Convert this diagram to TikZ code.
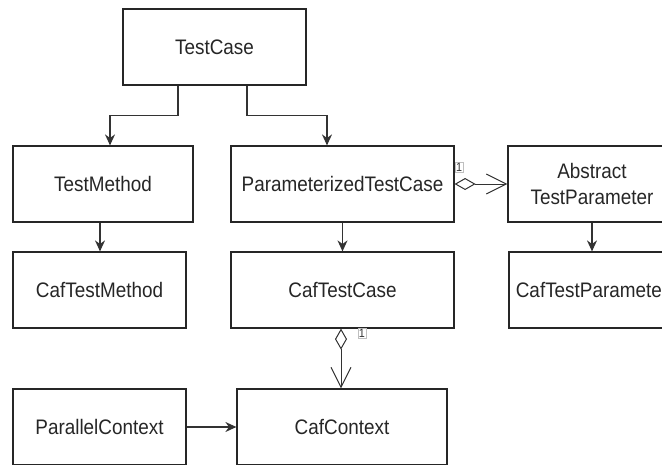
\documentclass[tikz,border=0pt]{standalone}
\usepackage{fontspec}
\setmainfont{Liberation Sans}[FakeStretch=0.9]
\usetikzlibrary{arrows.meta,calc}
\begin{document}
\begin{tikzpicture}[x=1pt,y=-1pt,
  cls/.style={draw=black!85,line width=1.2pt,minimum height=76pt,inner sep=0pt,
    font=\fontsize{21}{26}\selectfont,text=black!85,align=center},
  arr/.style={draw=black!80,line width=1.3pt,-{Stealth[length=11pt,width=10pt]}},
  agg/.style={draw=black!80,line width=1pt,
    {Diamond[open,length=21pt,width=12pt]}-{Straight Barb[length=20pt,width=20pt]}},
  mult/.style={draw=black!25,line width=0.4pt,inner sep=0.8pt,fill=white,
    font=\fontsize{12}{12}\selectfont,text=black!80}]
\useasboundingbox (0,0) rectangle (662,464);
\clip (0,0) rectangle (662,464);
\node[cls,minimum width=183pt] (tc) at (214.5,47) {TestCase};
\node[cls,minimum width=180pt] (tm) at (103,184) {TestMethod};
\node[cls,minimum width=173pt] (ctm) at (99.5,290) {CafTestMethod};
\node[cls,minimum width=223pt] (ptc) at (342.5,184) {ParameterizedTestCase};
\node[cls,minimum width=223pt] (ctc) at (342.5,290) {CafTestCase};
\node[cls,minimum width=168pt] (atp) at (592,184) {Abstract\\TestParameter};
\node[cls,minimum width=166pt] (ctp) at (592,290) {CafTestParameter};
\node[cls,minimum width=173pt] (pc) at (99.5,427) {ParallelContext};
\node[cls,minimum width=210pt] (cc) at (342,427) {CafContext};
% inheritance-style arrows
\draw[arr] ([xshift=-36.5pt]tc.south) -- ++(0,30) -| ([xshift=7pt]tm.north);
\draw[arr] ([xshift=32.5pt]tc.south) -- ++(0,30) -| ([xshift=-15.5pt]ptc.north);
\draw[arr] ([xshift=-3pt]tm.south) -- ([xshift=0.5pt]ctm.north);
\draw[arr] (ptc.south) -- (ctc.north);
\draw[arr] (atp.south) -- (ctp.north);
\draw[arr] (pc.east) -- (cc.west);
% aggregations
\draw[agg] (ptc.east) -- (atp.west);
\draw[agg] ([xshift=-1.5pt]ctc.south) -- ([xshift=-1pt]cc.north);
\node[mult] (m1) at (459,167) {1};
\node[mult] (m2) at (362,333) {1};
\end{tikzpicture}
\end{document}
